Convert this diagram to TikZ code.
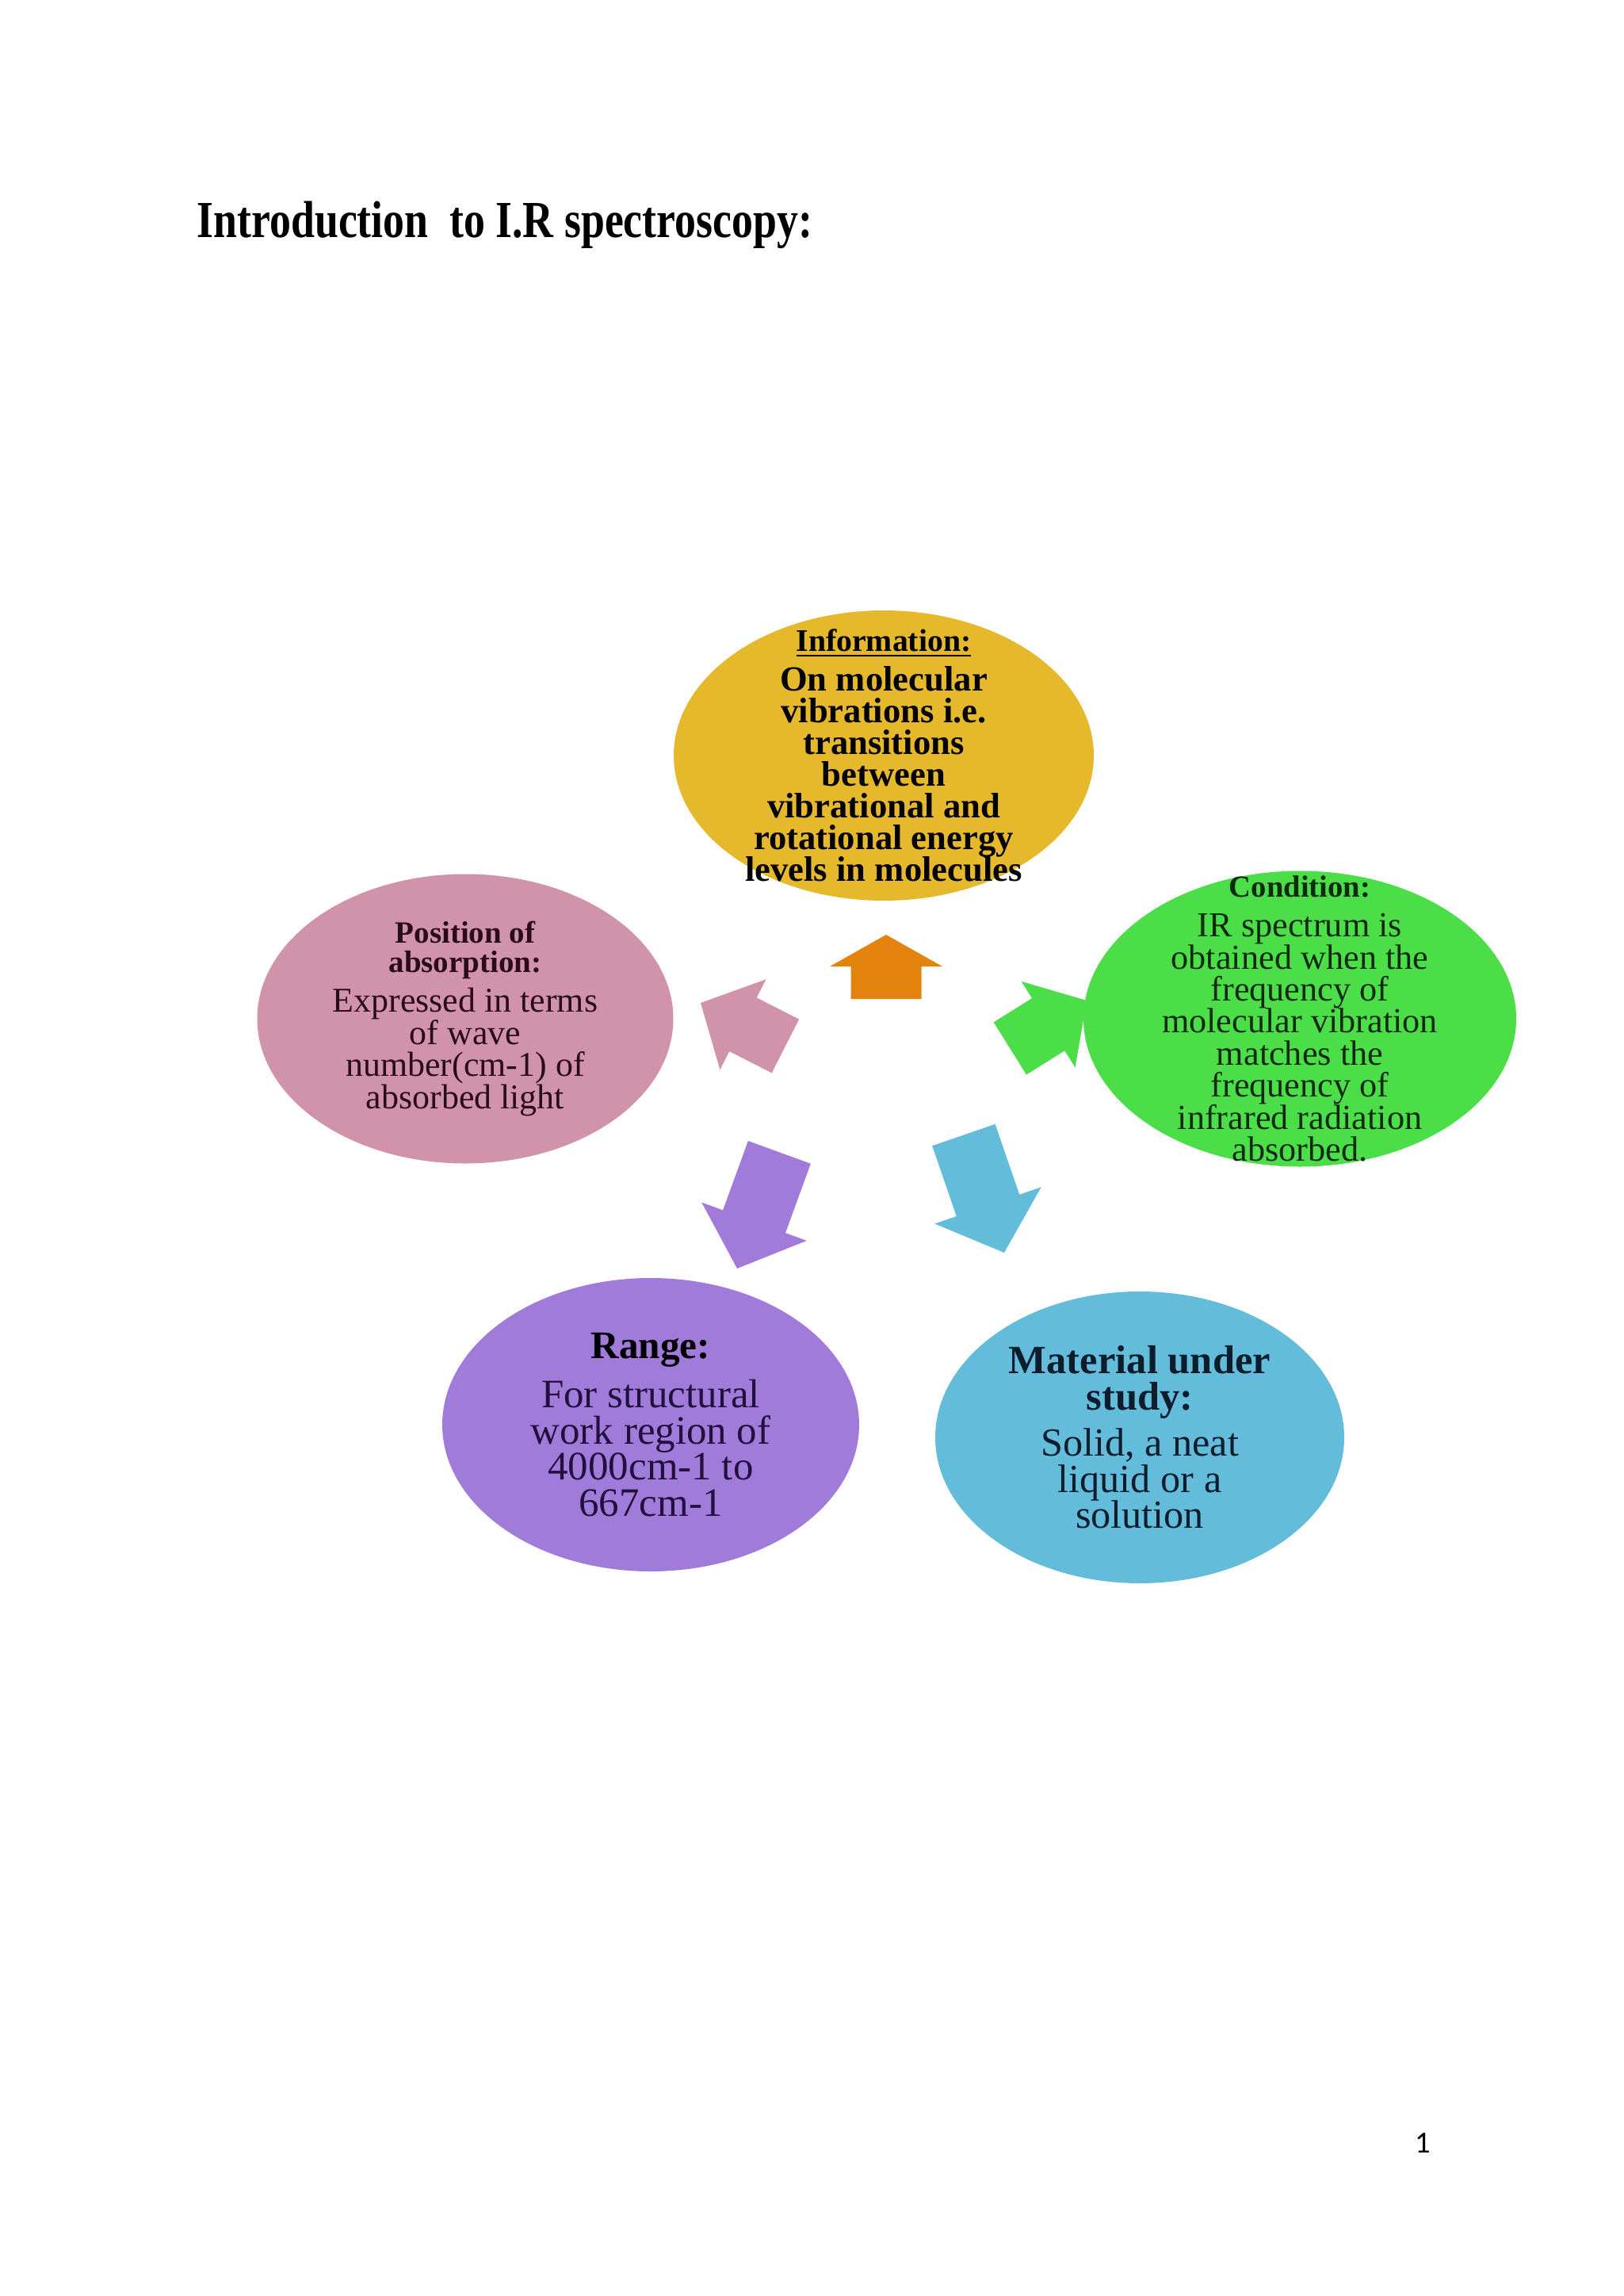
\documentclass[tikz,border=0pt]{standalone}
\usepackage{fontspec}
\setmainfont{Liberation Serif}
\newfontfamily\pagefont{Carlito}
\usepackage{graphicx}
\usepackage{xcolor}
\usepackage{tikz}
\usetikzlibrary{shapes.geometric}

\definecolor{infoyellow}{HTML}{E6B82C}
\definecolor{condgreen}{HTML}{4CDE48}
\definecolor{pospink}{HTML}{D193A9}
\definecolor{rangepurple}{HTML}{A17BDA}
\definecolor{matblue}{HTML}{63BCD9}
\definecolor{arrorange}{HTML}{E5830F}
\definecolor{condtext}{HTML}{0E2A0E}
\definecolor{postext}{HTML}{2A0C18}
\definecolor{rangetext}{HTML}{22103E}
\definecolor{mattext}{HTML}{0C1E2E}

% tight lines as in the original slide
\setlength{\lineskiplimit}{-20pt}

\begin{document}
\begin{tikzpicture}[
  bubble/.style={ellipse, inner sep=0pt},
  txt/.style={align=center, inner sep=0pt}
]
\useasboundingbox (0,0) rectangle (20.48,-28.96);
\fill[white] (0,0) rectangle (20.48,-28.96);

% title
\node[anchor=base west, inner sep=0pt, font=\fontsize{15.3}{18}\selectfont\bfseries] (title) at (2.48,-3.0)
  {\scalebox{1}[1.22]{Introduction\ \ to I.R spectroscopy:}};

% block arrows (tip x/y, angle, length, shaft, head width, head length)
\foreach \col/\tx/\ty/\ang/\len/\sw/\hw/\hl in {
    arrorange/11.18/-11.79/90/.81/.89/1.42/.40,
    pospink/8.84/-12.65/153/1.20/.76/1.28/.60,
    condgreen/13.71/-12.62/32/1.14/.78/1.28/.57,
    rangepurple/9.30/-16.00/-110/1.56/.84/1.41/.63,
    matblue/12.67/-15.80/-71/1.57/.84/1.42/.63} {
  \fill[\col, shift={(\tx,\ty)}, rotate=\ang]
    (0,0) -- (-\hl,\hw/2) -- (-\hl,\sw/2) -- (-\len,\sw/2) -- (-\len,-\sw/2)
    -- (-\hl,-\sw/2) -- (-\hl,-\hw/2) -- cycle;
}

% bubbles
\node[bubble, fill=infoyellow, minimum width=5.30cm, minimum height=3.66cm] (info) at (11.15,-9.53) {};
\node[bubble, fill=condgreen, minimum width=5.46cm, minimum height=3.73cm] (cond) at (16.40,-12.85) {};
\node[bubble, fill=pospink, minimum width=5.25cm, minimum height=3.65cm] (pos) at (5.87,-12.85) {};
\node[bubble, fill=rangepurple, minimum width=5.26cm, minimum height=3.70cm] (range) at (8.21,-17.97) {};
\node[bubble, fill=matblue, minimum width=5.16cm, minimum height=3.68cm] (mat) at (14.38,-18.13) {};

\node[txt, font=\fontsize{12.7}{11.4}\selectfont\bfseries] (infotxt) at (info)
  {{\fontsize{11.3}{11.4}\selectfont\underline{Information:}}\\[2.8pt]
   On molecular\\ vibrations i.e.\\ transitions\\ between\\ vibrational and\\ rotational energy\\ levels in molecules};

\node[txt, text=condtext, font=\fontsize{12.6}{11.5}\selectfont] (condtxt) at (cond)
  {{\fontsize{11}{11.5}\selectfont\bfseries Condition:}\\[2.7pt]
   IR spectrum is\\ obtained when the\\ frequency of\\ molecular vibration\\ matches the\\ frequency of\\ infrared radiation\\ absorbed.};

\node[txt, text=postext, font=\fontsize{12.5}{11.6}\selectfont] (postxt) at (pos)
  {{\fontsize{11.1}{10.5}\selectfont\bfseries Position of}\\[-1.1pt]
   {\fontsize{11.1}{10.5}\selectfont\bfseries absorption:}\\[2.6pt]
   Expressed in terms\\ of wave\\ number(cm-1) of\\ absorbed light};

\node[txt, text=rangetext, font=\fontsize{14.5}{13}\selectfont] (rangetxt) at (range)
  {{\fontsize{14}{13}\selectfont\bfseries\color{black}Range:}\\[4.7pt]
   For structural\\ work region of\\ 4000cm-1 to\\ 667cm-1};

\node[txt, text=mattext, font=\fontsize{14.3}{13}\selectfont] (mattxt) at (mat)
  {{\fontsize{14.4}{13.1}\selectfont\bfseries Material under}\\[0.1pt]
   {\fontsize{14.4}{13.1}\selectfont\bfseries study:}\\[3.4pt]
   Solid, a neat\\ liquid or a\\ solution};

% page number
\node[inner sep=0pt, font=\pagefont\fontsize{11}{13}\selectfont] (pagenum) at (17.95,-27.03) {1};
\end{tikzpicture}
\end{document}
